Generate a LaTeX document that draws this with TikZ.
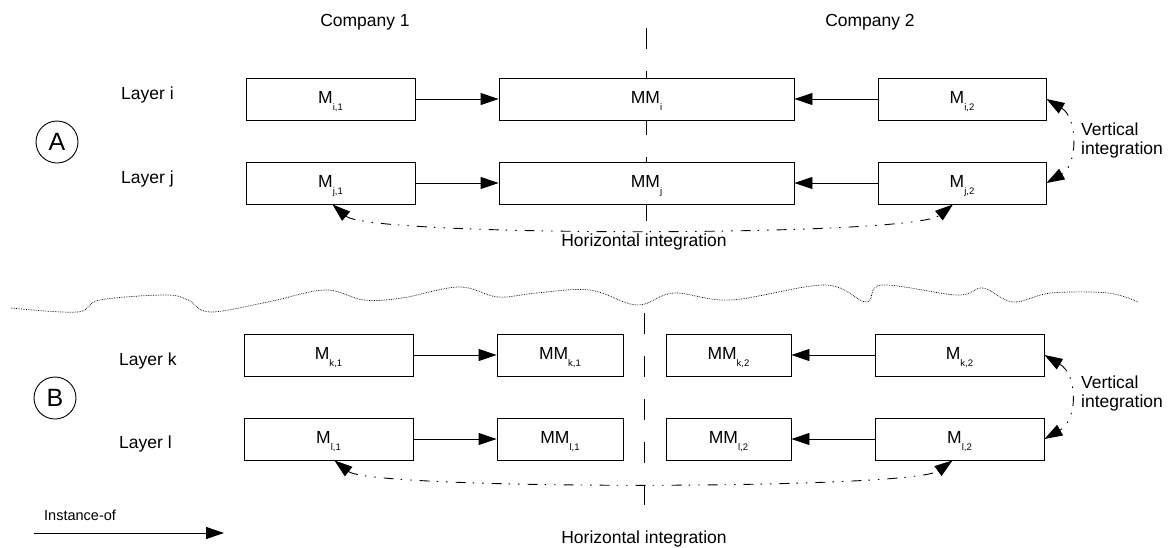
\documentclass[tikz,border=0pt]{standalone}
\usepackage{fontspec}
\setmainfont{Liberation Sans}
\usetikzlibrary{arrows.meta}
\newcommand{\Msub}[2]{#1\raisebox{-7.5pt}{\fontsize{9.5}{9.5}\selectfont #2}}
\begin{document}
\begin{tikzpicture}[x=1pt,y=-1pt,
  box/.style={draw, line width=0.9pt, fill=white, minimum height=42pt, inner sep=0pt,
    text height=12.5pt, text depth=4.5pt, font=\fontsize{17.5}{20}\selectfont},
  lbl/.style={font=\fontsize{17.5}{20}\selectfont, inner sep=0pt},
  inst/.style={-{Triangle[length=18pt,width=12pt]}, line width=0.9pt},
  integ/.style={{Triangle[length=18pt,width=12pt]}-{Triangle[length=18pt,width=12pt]}, line width=0.9pt,
    dash pattern=on 10pt off 7pt on 1.5pt off 8pt on 1.5pt off 8pt},
  sep/.style={line width=0.9pt, dash pattern=on 21pt off 22pt},
  circ/.style={draw, circle, line width=0.9pt, minimum size=42pt, inner sep=0pt, font=\fontsize{25}{25}\selectfont}]
\useasboundingbox (0,0) rectangle (1171,547);

% separators
\draw[sep] (646,28) -- (646,222);
\draw[sep] (644,313) -- (644,505);
\draw[densely dotted, line width=0.7pt] plot[smooth, tension=0.6] coordinates {
 (11,308) (77,312) (100,300) (165,295) (188,300) (210,312) (268,302) (325,290) (364,300)
 (402,298) (459,287) (498,297) (536,293) (590,290) (637,305) (674,293) (731,300) (825,285)
 (866,302) (882,285) (957,295) (983,288) (1013,302) (1051,293) (1108,293) (1138,302)};

% headings
\node[lbl, anchor=base] (c1) at (365,26) {Company 1};
\node[lbl, anchor=base] (c2) at (870,26) {Company 2};
\node[lbl, anchor=base west] (li) at (121,99) {Layer i};
\node[lbl, anchor=base west] (lj) at (121,183) {Layer j};
\node[lbl, anchor=base west] (lk) at (119,365) {Layer k};
\node[lbl, anchor=base west] (ll) at (119,448) {Layer l};
\node[circ] (ca) at (57,142) {A};
\node[circ] (cb) at (55,398) {B};

% part A boxes
\node[box, minimum width=169pt] (mi1) at (330.5,99) {\Msub{M}{i,1}};
\node[box, minimum width=295pt] (mmi) at (646.5,99) {\Msub{MM}{i}};
\node[box, minimum width=168pt] (mi2) at (962,99) {\Msub{M}{i,2}};
\node[box, minimum width=169pt] (mj1) at (330.5,183) {\Msub{M}{j,1}};
\node[box, minimum width=295pt] (mmj) at (646.5,183) {\Msub{MM}{j}};
\node[box, minimum width=168pt] (mj2) at (962,183) {\Msub{M}{j,2}};

% part B boxes
\node[box, minimum width=169pt] (mk1) at (328.5,355) {\Msub{M}{k,1}};
\node[box, minimum width=126pt] (mmk1) at (560,355) {\Msub{MM}{k,1}};
\node[box, minimum width=125pt] (mmk2) at (728.5,355) {\Msub{MM}{k,2}};
\node[box, minimum width=169pt] (mk2) at (959.5,355) {\Msub{M}{k,2}};
\node[box, minimum width=169pt] (ml1) at (328.5,439) {\Msub{M}{l,1}};
\node[box, minimum width=126pt] (mml1) at (560,439) {\Msub{MM}{l,1}};
\node[box, minimum width=125pt] (mml2) at (728.5,439) {\Msub{MM}{l,2}};
\node[box, minimum width=169pt] (ml2) at (959.5,439) {\Msub{M}{l,2}};

% instance-of arrows
\draw[inst] (mi1) -- (mmi);
\draw[inst] (mi2) -- (mmi);
\draw[inst] (mj1) -- (mmj);
\draw[inst] (mj2) -- (mmj);
\draw[inst] (mk1) -- (mmk1);
\draw[inst] (mk2) -- (mmk2);
\draw[inst] (ml1) -- (mml1);
\draw[inst] (ml2) -- (mml2);

% integration curves
\draw[integ] ([xshift=2pt]mj1.south) .. controls (370,237) and (912,237) .. ([xshift=-9pt]mj2.south);
\draw[integ] ([xshift=6pt]ml1.south) .. controls (372,490) and (912,490) .. ([xshift=-7pt]ml2.south);
\draw[integ] (mi2.east) .. controls (1078,118) and (1078,165) .. (mj2.east);
\draw[integ] (mk2.east) .. controls (1078,375) and (1078,420) .. (ml2.east);

\node[lbl, anchor=base] (hi1) at (644,246) {Horizontal integration};
\node[lbl, anchor=base] (hi2) at (644,543) {Horizontal integration};
\node[lbl, anchor=north west, align=left, font=\fontsize{17.5}{19.5}\selectfont] (vi1) at (1081,122.5) {Vertical\\integration};
\node[lbl, anchor=north west, align=left, font=\fontsize{17.5}{19.5}\selectfont] (vi2) at (1081,375.5) {Vertical\\integration};

% legend
\node[anchor=base west, inner sep=0pt, font=\fontsize{14.5}{16}\selectfont] (io) at (44,520) {Instance-of};
\coordinate (legs) at (34,533);
\coordinate (lege) at (224,533);
\draw[inst] (legs) -- (lege);
\end{tikzpicture}
\end{document}
